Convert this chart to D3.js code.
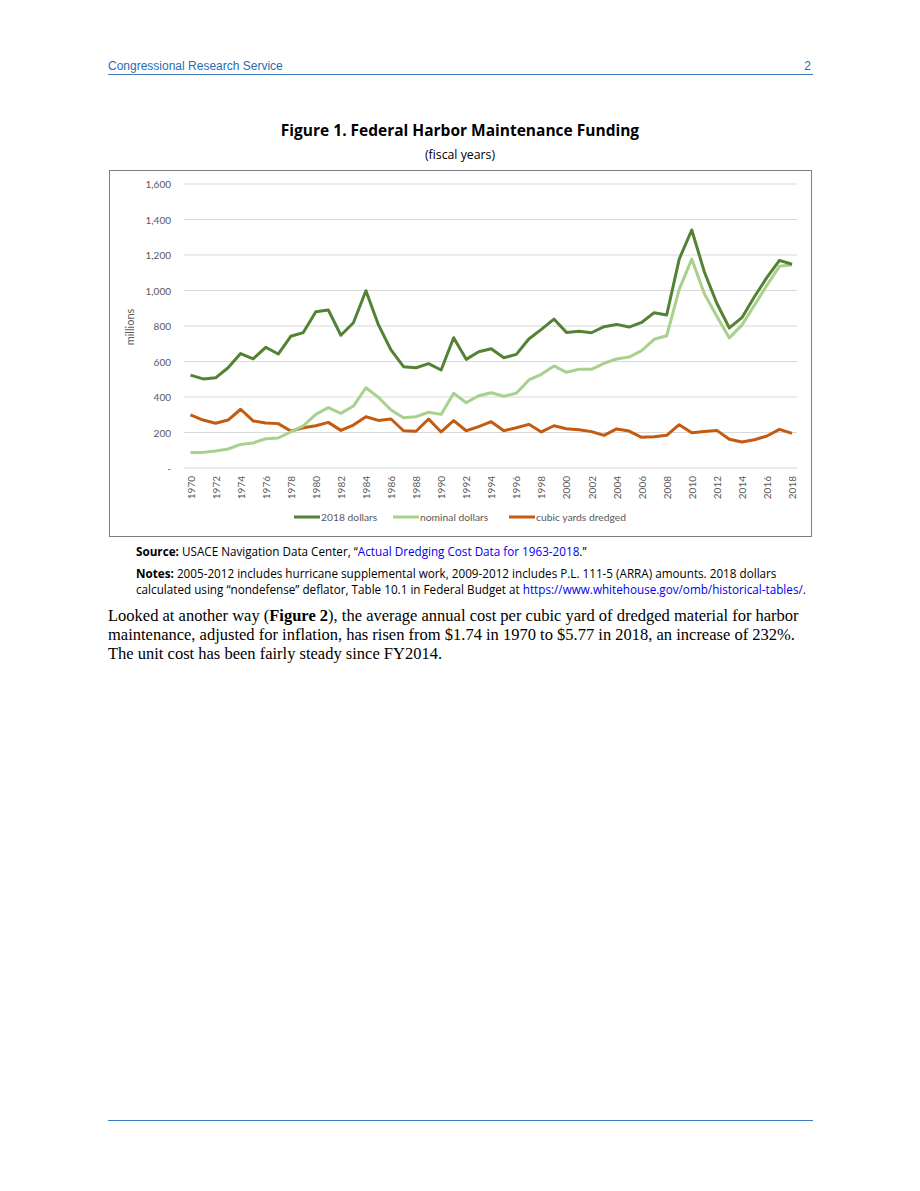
<!DOCTYPE html>
<html>
<head>
<meta charset="utf-8">
<script src="https://cdn.jsdelivr.net/npm/d3@7"></script>
<style>
  body { margin: 0; background: #fff; }
  svg text { font-family: Lato, "Open Sans", sans-serif; }
</style>
</head>
<body>
<div id="page"></div>
<script>
// fiscal years and the three series (millions)
var years = d3.range(1970, 2019);
var realDollars = [523, 502, 508, 565, 645, 615, 680, 642, 742, 763,
  880, 890, 748, 818, 999, 806, 665, 571, 565, 588,
  552, 734, 612, 655, 672, 621, 640, 727, 781, 839,
  764, 770, 762, 796, 809, 794, 820, 875, 862, 1177,
  1341, 1106, 928, 789, 847, 965, 1074, 1170, 1148];
var nominalDollars = [88, 88, 96, 107, 133, 141, 165, 169, 203, 237,
  302, 340, 308, 349, 452, 398, 327, 283, 289, 314,
  302, 421, 368, 407, 424, 404, 421, 496, 528, 575,
  539, 556, 556, 590, 614, 625, 661, 725, 745, 1006,
  1177, 983, 855, 733, 805, 917, 1030, 1136, 1145];
var cubicYards = [299, 270, 252, 270, 331, 265, 254, 250, 208, 227,
  238, 257, 212, 242, 289, 268, 276, 210, 207, 276,
  203, 267, 210, 233, 261, 210, 227, 246, 203, 238,
  221, 216, 205, 184, 220, 208, 173, 176, 184, 244,
  199, 205, 212, 162, 146, 159, 180, 218, 195];
var yTicks = [0, 200, 400, 600, 800, 1000, 1200, 1400, 1600];
var seriesNames = ['2018 dollars', 'nominal dollars', 'cubic yards dredged'];
var seriesColors = ['#548235', '#A9D18E', '#C55A11'];

var W = 920, H = 1191;
var svg = d3.select('#page').append('svg').attr('width', W).attr('height', H);

// page header / footer
var blue = '#2B6CB0';
svg.append('text').attr('x', 108).attr('y', 70).attr('font-size', 12)
  .style('font-family', '"Liberation Sans", Arial, sans-serif').attr('fill', blue)
  .text('Congressional Research Service');
svg.append('text').attr('x', 811).attr('y', 70).attr('font-size', 12).attr('text-anchor', 'end')
  .style('font-family', '"Liberation Sans", Arial, sans-serif').attr('fill', blue).text('2');
svg.append('line').attr('x1', 108).attr('x2', 813).attr('y1', 74.5).attr('y2', 74.5)
  .attr('stroke', '#3C7DBF').attr('stroke-width', 1);
svg.append('line').attr('x1', 108).attr('x2', 813).attr('y1', 1120.5).attr('y2', 1120.5)
  .attr('stroke', '#3C7DBF').attr('stroke-width', 1);

// titles
var sans = '"Open Sans", Lato, sans-serif';
svg.append('text').attr('x', 460).attr('y', 136).attr('text-anchor', 'middle')
  .style('font-family', sans).attr('font-size', 15.5).attr('font-weight', 'bold')
  .text('Figure 1. Federal Harbor Maintenance Funding');
svg.append('text').attr('x', 460).attr('y', 159).attr('text-anchor', 'middle')
  .style('font-family', sans).attr('font-size', 12.3).text('(fiscal years)');

// chart frame
svg.append('rect').attr('x', 109.5).attr('y', 170.5).attr('width', 702).attr('height', 366)
  .attr('fill', 'none').attr('stroke', '#7f7f7f').attr('stroke-width', 1);

var x = d3.scaleLinear().domain([1970, 2018]).range([190.5, 792]);
var y = d3.scaleLinear().domain([0, 1600]).range([468, 184]);

var g = svg.append('g');

// grid
g.selectAll('line.grid').data(yTicks).enter().append('line')
  .attr('class', 'grid')
  .attr('x1', 184).attr('x2', 797)
  .attr('y1', function(d) { return y(d); }).attr('y2', function(d) { return y(d); })
  .attr('stroke', '#d9d9d9').attr('stroke-width', 1);

// y axis labels
var yAxis = d3.axisLeft(y).tickValues(yTicks).tickSize(0).tickPadding(0)
  .tickFormat(function(d) { return d === 0 ? '-' : d3.format(',')(d); });
var ya = g.append('g').attr('transform', 'translate(171,0)').call(yAxis);
ya.select('.domain').remove();
ya.selectAll('text').attr('font-size', 10).attr('fill', '#595959')
  .style('font-family', 'Lato, sans-serif').attr('dy', '0.35em');

svg.append('text').attr('transform', 'translate(134,327) rotate(-90)')
  .attr('text-anchor', 'middle').attr('font-size', 11).attr('fill', '#595959').text('millions');

// x axis labels
var xAxis = d3.axisBottom(x).tickValues(years.filter(function(d) { return d % 2 === 0; }))
  .tickSize(0).tickFormat(d3.format('d'));
var xa = g.append('g').attr('transform', 'translate(0,473)').call(xAxis);
xa.select('.domain').remove();
xa.selectAll('text').attr('font-size', 10).attr('fill', '#595959')
  .style('font-family', 'Lato, sans-serif')
  .attr('transform', 'rotate(-90)').attr('text-anchor', 'end')
  .attr('x', -3).attr('y', 0).attr('dy', '0.35em');

// lines
var allSeries = [realDollars, nominalDollars, cubicYards];
var line = d3.line().x(function(d, i) { return x(years[i]); }).y(function(d) { return y(d); });
[2, 1, 0].forEach(function(k) {
  g.append('path').datum(allSeries[k]).attr('d', line)
    .attr('fill', 'none').attr('stroke', seriesColors[k]).attr('stroke-width', 3)
    .attr('stroke-linejoin', 'round');
});

// legend
var legendX = [294, 393, 509];
var lg = svg.append('g').attr('transform', 'translate(0,517)');
seriesNames.forEach(function(n, i) {
  lg.append('line').attr('x1', legendX[i]).attr('x2', legendX[i] + 26).attr('y1', 0).attr('y2', 0)
    .attr('stroke', seriesColors[i]).attr('stroke-width', 3);
  lg.append('text').attr('x', legendX[i] + 27).attr('y', 0).attr('dy', '0.35em')
    .attr('font-size', 10.3).attr('fill', '#595959').text(n);
});

// source and notes
var linkBlue = '#0000EE';
var noteSize = 11.7;
var src = svg.append('text').attr('x', 136).attr('y', 556).attr('font-size', noteSize).style('font-family', sans);
src.append('tspan').attr('font-weight', 'bold').text('Source:');
src.append('tspan').text(' USACE Navigation Data Center, \u201c');
src.append('tspan').attr('fill', linkBlue).text('Actual Dredging Cost Data for 1963-2018');
src.append('tspan').text('.\u201d');

var n1 = svg.append('text').attr('x', 136).attr('y', 578).attr('font-size', noteSize).style('font-family', sans);
n1.append('tspan').attr('font-weight', 'bold').text('Notes:');
n1.append('tspan').text(' 2005-2012 includes hurricane supplemental work, 2009-2012 includes P.L. 111-5 (ARRA) amounts. 2018 dollars');
var n2 = svg.append('text').attr('x', 136).attr('y', 594).attr('font-size', noteSize).style('font-family', sans);
n2.append('tspan').text('calculated using \u201cnondefense\u201d deflator, Table 10.1 in Federal Budget at ');
n2.append('tspan').attr('fill', linkBlue).text('https://www.whitehouse.gov/omb/historical-tables/');
n2.append('tspan').text('.');

// body text
var bodyLines = [
  [['Looked at another way (', false], ['Figure 2', true], ['), the average annual cost per cubic yard of dredged material for harbor', false]],
  [['maintenance, adjusted for inflation, has risen from $1.74 in 1970 to $5.77 in 2018, an increase of 232%.', false]],
  [['The unit cost has been fairly steady since FY2014.', false]]
];
bodyLines.forEach(function(parts, i) {
  var t = svg.append('text').attr('x', 108).attr('y', 621 + i * 19).attr('font-size', 16.5)
    .style('font-family', '"Liberation Serif", "Times New Roman", serif');
  parts.forEach(function(p) {
    t.append('tspan').attr('font-weight', p[1] ? 'bold' : 'normal').text(p[0]);
  });
});
</script>
</body>
</html>
